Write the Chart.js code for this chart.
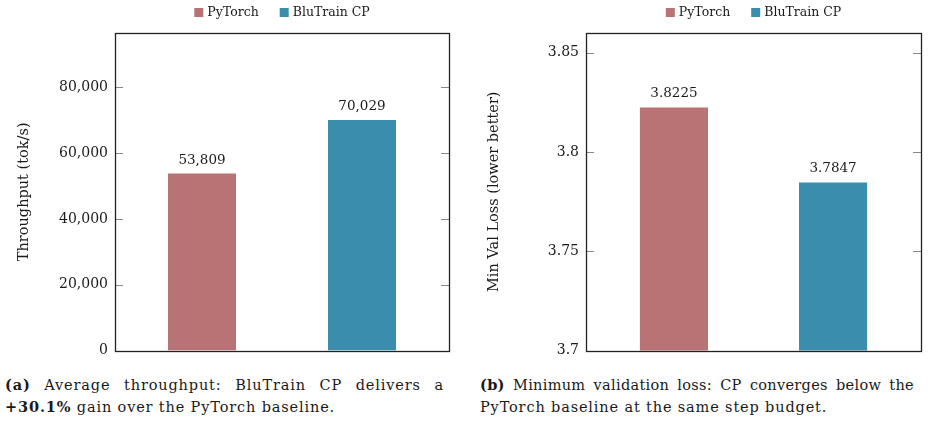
<!DOCTYPE html>
<html>
<head>
<meta charset="utf-8">
<script src="https://cdn.jsdelivr.net/npm/chart.js@4.4.1/dist/chart.umd.min.js"></script>
<style>
  body { margin: 0; background: #fff; }
  #wrap { position: relative; width: 928px; height: 441px; font-family: 'DejaVu Serif', serif; color: #1a1a1a; }
  canvas { position: absolute; top: 0; }
  .cap { position: absolute; font-size: 14.5px; line-height: 22px; letter-spacing: 0.85px; }
  .cap .l1 { text-align: justify; text-align-last: justify; white-space: nowrap; }
  #capB .l1 { letter-spacing: 0.3px; }
</style>
</head>
<body>
<div id="wrap">
  <canvas id="tput" width="464" height="366" style="left:0"></canvas>
  <canvas id="loss" width="464" height="366" style="left:464px"></canvas>
  <div class="cap" style="left:5px; top:374px; width:439px">
    <div class="l1"><b>(a)</b> Average throughput: BluTrain CP delivers a</div>
    <div><b>+30.1%</b> gain over the PyTorch baseline.</div>
  </div>
  <div class="cap" id="capB" style="left:480px; top:374px; width:434px">
    <div class="l1"><b>(b)</b> Minimum validation loss: CP converges below the</div>
    <div>PyTorch baseline at the same step budget.</div>
  </div>
</div>
<script>
const seriesNames = ['PyTorch', 'BluTrain CP']
const seriesColors = ['#b97375', '#3b8dad']

const throughput = [53809, 70029]
const throughputTicks = [0, 20000, 40000, 60000, 80000]

const minValLoss = [3.8225, 3.7847]
const lossTicks = [3.7, 3.75, 3.8, 3.85]

const serif = "'DejaVu Serif', serif"

// box round the plot, ticks pointing inward on both sides
const framePlugin = {
  id: 'frame',
  afterDraw(chart) {
    const ctx = chart.ctx
    const a = chart.chartArea
    const y = chart.scales.y
    ctx.save()
    ctx.strokeStyle = '#888'
    ctx.lineWidth = 1
    y.ticks.forEach(t => {
      const py = Math.round(y.getPixelForValue(t.value)) + 0.5
      ctx.beginPath()
      ctx.moveTo(a.left, py); ctx.lineTo(a.left + 8, py)
      ctx.moveTo(a.right, py); ctx.lineTo(a.right - 8, py)
      ctx.stroke()
    })
    ctx.strokeStyle = '#222'
    ctx.lineWidth = 1.3
    ctx.strokeRect(Math.round(a.left) + 0.5, Math.round(a.top) + 0.5,
      Math.round(a.right - a.left), Math.round(a.bottom - a.top))
    ctx.restore()
  }
}

// legend centred over the plot area
const legendPlugin = {
  id: 'topLegend',
  afterDraw(chart) {
    const ctx = chart.ctx
    const a = chart.chartArea
    ctx.save()
    ctx.font = '12.5px ' + serif
    ctx.textBaseline = 'middle'
    const sets = chart.data.datasets
    const widths = sets.map(d => 9 + 4 + ctx.measureText(d.label).width)
    const total = widths.reduce((s, w) => s + w, 0) + 21 * (sets.length - 1)
    let x = (a.left + a.right) / 2 - total / 2
    sets.forEach((d, i) => {
      ctx.fillStyle = d.backgroundColor
      ctx.fillRect(x, 8, 9, 9)
      ctx.fillStyle = '#1a1a1a'
      ctx.fillText(d.label, x + 13, 12.5)
      x += widths[i] + 21
    })
    ctx.restore()
  }
}

// value printed above each bar
const valuePlugin = {
  id: 'values',
  afterDatasetsDraw(chart, args, opts) {
    const ctx = chart.ctx
    ctx.save()
    ctx.font = '13.5px ' + serif
    ctx.fillStyle = '#1a1a1a'
    ctx.textAlign = 'center'
    ctx.textBaseline = 'alphabetic'
    chart.data.datasets.forEach((d, i) => {
      chart.getDatasetMeta(i).data.forEach((bar, j) => {
        ctx.fillText(opts.format(d.data[j]), bar.x, bar.y - 10)
      })
    })
    ctx.restore()
  }
}

function makeChart(id, values, ticks, opts) {
  const ctx = document.getElementById(id)
  return new Chart(ctx, {
    type: 'bar',
    data: {
      labels: [''],
      datasets: seriesNames.map((name, i) => ({
        label: name,
        data: [values[i]],
        backgroundColor: seriesColors[i],
        categoryPercentage: opts.catPct,
        barPercentage: opts.barPct
      }))
    },
    options: {
      responsive: false,
      animation: false,
      layout: { padding: { top: 33, bottom: 0, left: 0, right: opts.right } },
      plugins: {
        legend: { display: false },
        tooltip: { enabled: false },
        values: { format: opts.format }
      },
      scales: {
        x: { display: false },
        y: {
          min: opts.min,
          max: opts.max,
          afterBuildTicks: s => { s.ticks = ticks.map(v => ({ value: v })) },
          afterFit: s => { s.width = opts.axisWidth },
          grid: { display: false, drawTicks: false },
          border: { display: false },
          ticks: {
            padding: 7,
            color: '#1a1a1a',
            font: { family: serif, size: 14 },
            callback: v => opts.format(v)
          },
          title: {
            display: true,
            text: opts.title,
            color: '#1a1a1a',
            font: { family: serif, size: 14.5 },
            padding: { top: opts.titlePad, bottom: 0 }
          }
        }
      }
    },
    plugins: [framePlugin, legendPlugin, valuePlugin]
  })
}

makeChart('tput', throughput, throughputTicks, {
  min: 0, max: 96500, right: 15, axisWidth: 115, catPct: 0.958, barPct: 0.425, titlePad: 16,
  title: 'Throughput (tok/s)',
  format: v => v.toLocaleString('en-US')
})

makeChart('loss', minValLoss, lossTicks, {
  min: 3.7, max: 3.86, right: 7, axisWidth: 122, catPct: 0.95, barPct: 0.428, titlePad: 22,
  title: 'Min Val Loss (lower better)',
  format: v => String(v)
})
</script>
</body>
</html>
